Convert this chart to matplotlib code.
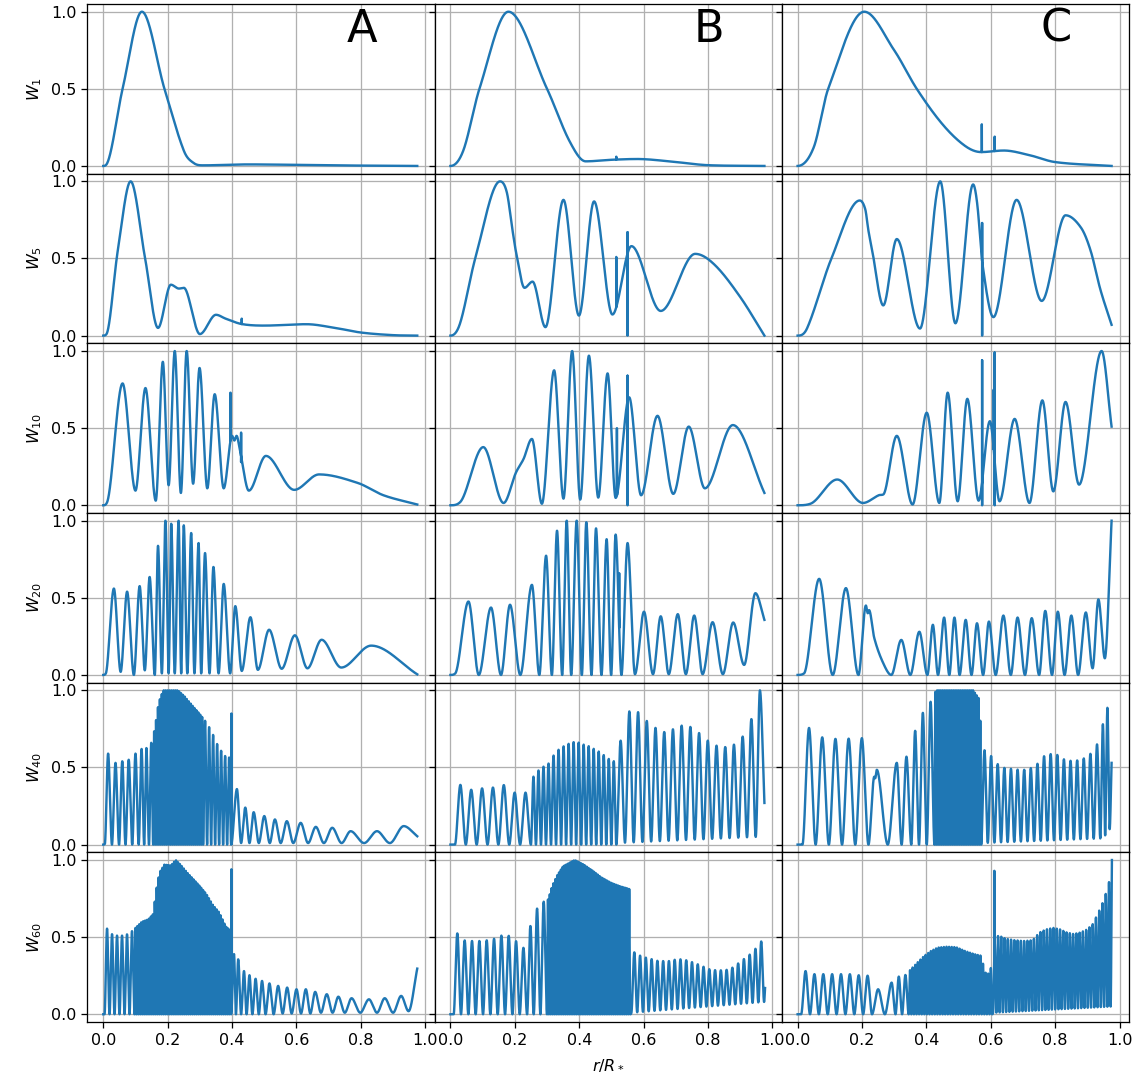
import numpy as np
import matplotlib
matplotlib.use("Agg")
import matplotlib.pyplot as plt

# ---------------- labels / ticks ----------------
ROW_LABELS = ["$W_1$", "$W_5$", "$W_{10}$", "$W_{20}$", "$W_{40}$", "$W_{60}$"]
COL_LETTERS = ["A", "B", "C"]
XTICKS = [0.0, 0.2, 0.4, 0.6, 0.8, 1.0]
YTICKS = [0.0, 0.5, 1.0]
XLABEL = "$r/R_*$"

# ---------------- data ----------------
# keys: (r, W) points on the curve (maxima / minima / shoulders)
# bands: (r_start, r_end, n_lobes, trough_start, trough_end) for dense oscillations,
#        peak heights taken from the *_env_x / *_env_y envelope readings
# spikes: (r, low, high) narrow vertical glitches

# ---- W1 ----
A1_keys = [(0, 0), (0.01, 0.01), (0.06, 0.5), (0.12, 1.0), (0.19, 0.5), (0.25, 0.1),
           (0.28, 0.02), (0.31, 0.004), (0.45, 0.01), (0.7, 0.004), (0.975, 0.0)]
A1_spikes = []
B1_keys = [(0, 0), (0.04, 0.1), (0.09, 0.5), (0.18, 1.0), (0.30, 0.5), (0.37, 0.16),
           (0.42, 0.03), (0.5, 0.04), (0.58, 0.045), (0.68, 0.03), (0.8, 0.005), (0.975, 0.0)]
B1_spikes = [(0.515, None, 0.06)]
C1_keys = [(0, 0), (0.05, 0.12), (0.095, 0.5), (0.207, 1.0), (0.30, 0.75), (0.37, 0.5),
           (0.45, 0.27), (0.52, 0.13), (0.57, 0.09), (0.64, 0.10), (0.72, 0.07), (0.8, 0.025),
           (0.975, 0.0)]
C1_spikes = [(0.572, None, 0.27), (0.612, None, 0.19)]

# ---- W5 ----
A2_keys = [(0, 0), (0.01, 0.01), (0.045, 0.55), (0.085, 1.0), (0.13, 0.5), (0.17, 0.05),
           (0.21, 0.33), (0.235, 0.305), (0.25, 0.31), (0.30, 0.01), (0.35, 0.135), (0.38, 0.11),
           (0.43, 0.075), (0.5, 0.065), (0.63, 0.074), (0.72, 0.05), (0.8, 0.02), (0.9, 0.003),
           (0.975, 0.0)]
A2_spikes = [(0.43, None, 0.11)]
B2_keys = [(0, 0), (0.03, 0.08), (0.077, 0.5), (0.154, 1.0), (0.175, 0.93), (0.193, 0.68),
           (0.203, 0.55), (0.23, 0.31), (0.255, 0.35), (0.295, 0.055), (0.351, 0.88),
           (0.399, 0.13), (0.446, 0.87), (0.503, 0.137), (0.562, 0.58), (0.653, 0.16),
           (0.76, 0.53), (0.82, 0.46), (0.9, 0.25), (0.975, 0.0)]
B2_spikes = [(0.515, None, 0.51), (0.55, 0.0, 0.67)]
C2_keys = [(0, 0), (0.03, 0.05), (0.105, 0.5), (0.193, 0.876), (0.21, 0.82), (0.22, 0.68),
           (0.231, 0.56), (0.266, 0.196), (0.308, 0.626), (0.38, 0.046), (0.443, 1.0),
           (0.49, 0.08), (0.545, 0.98), (0.558, 0.85), (0.575, 0.45), (0.608, 0.12),
           (0.68, 0.88), (0.758, 0.225), (0.832, 0.78), (0.88, 0.70), (0.91, 0.55),
           (0.94, 0.30), (0.975, 0.07)]
C2_spikes = [(0.573, 0.0, 0.73)]

# ---- W10 ----
A3_keys = [(0, 0), (0.012, 0.02), (0.06, 0.79), (0.10, 0.095), (0.131, 0.76), (0.163, 0.03),
           (0.185, 0.93), (0.203, 0.13), (0.222, 1.0), (0.241, 0.08), (0.259, 1.0),
           (0.279, 0.14), (0.299, 0.89), (0.323, 0.11), (0.346, 0.72), (0.374, 0.11),
           (0.40, 0.45), (0.407, 0.42), (0.414, 0.45), (0.425, 0.35), (0.452, 0.095),
           (0.505, 0.32), (0.593, 0.10), (0.67, 0.20), (0.79, 0.145), (0.87, 0.065),
           (0.975, 0.005)]
A3_spikes = [(0.395, None, 0.73), (0.428, 0.28, 0.47)]
B3_keys = [(0, 0), (0.03, 0.02), (0.102, 0.377), (0.165, 0.015), (0.203, 0.21), (0.227, 0.30),
           (0.253, 0.43), (0.284, 0.01), (0.322, 0.875), (0.351, 0.043), (0.378, 1.0),
           (0.403, 0.037), (0.43, 0.97), (0.459, 0.05), (0.488, 0.855), (0.513, 0.048),
           (0.555, 0.70), (0.592, 0.065), (0.643, 0.58), (0.692, 0.074), (0.74, 0.51),
           (0.79, 0.11), (0.877, 0.52), (0.975, 0.08)]
B3_spikes = [(0.517, None, 0.50), (0.55, 0.0, 0.84)]
C3_keys = [(0, 0), (0.04, 0.01), (0.123, 0.167), (0.203, 0.015), (0.252, 0.065), (0.266, 0.07),
           (0.308, 0.45), (0.357, 0.005), (0.401, 0.60), (0.44, 0.015), (0.466, 0.73),
           (0.497, 0.026), (0.527, 0.69), (0.562, 0.03), (0.597, 0.545), (0.627, 0.026),
           (0.674, 0.56), (0.72, 0.015), (0.76, 0.68), (0.794, 0.09), (0.832, 0.67),
           (0.874, 0.134), (0.944, 1.0), (0.975, 0.51)]
C3_spikes = [(0.573, 0.0, 0.94), (0.609, None, 0.75), (0.612, 0.0, 0.99)]

# ---- W20 ----
A4_keys = [(0, 0), (0.008, 0.01), (0.033, 0.56), (0.054, 0.02), (0.074, 0.54), (0.095, 0.0),
           (0.113, 0.576), (0.129, 0.03), (0.144, 0.635), (0.16, 0.0), (0.17, 0.837),
           (0.182, 0.01), (0.193, 1.0), (0.203, 0.01), (0.211, 0.98), (0.222, 0.01),
           (0.234, 1.0), (0.242, 0.01), (0.25, 0.97), (0.261, 0.01), (0.273, 0.92),
           (0.283, 0.01), (0.296, 0.855), (0.304, 0.01), (0.316, 0.79), (0.33, 0.01),
           (0.342, 0.70), (0.358, 0.01), (0.374, 0.59), (0.394, 0.01), (0.41, 0.446),
           (0.43, 0.026), (0.457, 0.374), (0.48, 0.033), (0.515, 0.293), (0.554, 0.04),
           (0.595, 0.257), (0.634, 0.043), (0.678, 0.228), (0.739, 0.048), (0.832, 0.19),
           (0.975, 0.004)]
A4_spikes = []
B4_keys = [(0, 0), (0.015, 0.01), (0.056, 0.476), (0.088, 0.0), (0.126, 0.437), (0.157, 0.0),
           (0.185, 0.455), (0.217, 0.0), (0.253, 0.584), (0.276, 0.0), (0.297, 0.773),
           (0.315, 0.0), (0.331, 0.935), (0.347, 0.0), (0.361, 1.0), (0.375, 0.0),
           (0.392, 1.0), (0.408, 0.0), (0.422, 0.99), (0.438, 0.0), (0.452, 0.95),
           (0.469, 0.0), (0.485, 0.88), (0.499, 0.0), (0.513, 0.91), (0.531, 0.0),
           (0.55, 0.855), (0.573, 0.005), (0.601, 0.41), (0.629, 0.005), (0.653, 0.38),
           (0.678, 0.005), (0.706, 0.394), (0.731, 0.005), (0.757, 0.385), (0.783, 0.005),
           (0.814, 0.342), (0.846, 0.005), (0.878, 0.34), (0.912, 0.065), (0.947, 0.53),
           (0.975, 0.357)]
B4_spikes = [(0.524, None, 0.66)]
C4_keys = [(0, 0), (0.02, 0.01), (0.067, 0.623), (0.109, 0.0), (0.15, 0.563), (0.189, 0.0),
           (0.212, 0.45), (0.218, 0.40), (0.222, 0.42), (0.238, 0.24), (0.266, 0.076),
           (0.291, 0.0), (0.322, 0.227), (0.35, 0.0), (0.378, 0.28), (0.403, 0.0),
           (0.42, 0.325), (0.436, 0.0), (0.455, 0.372), (0.471, 0.0), (0.487, 0.372),
           (0.503, 0.0), (0.522, 0.357), (0.54, 0.0), (0.557, 0.335), (0.576, 0.0),
           (0.594, 0.346), (0.615, 0.0), (0.639, 0.385), (0.662, 0.0), (0.683, 0.372),
           (0.706, 0.0), (0.727, 0.368), (0.75, 0.0), (0.769, 0.415), (0.79, 0.0),
           (0.808, 0.41), (0.829, 0.0), (0.85, 0.385), (0.871, 0.0), (0.895, 0.405),
           (0.916, 0.043), (0.934, 0.49), (0.954, 0.108), (0.975, 1.0)]
C4_spikes = []

# ---- W40 ----
A5_keys = [(0, 0), (0.005, 0.005), (0.015, 0.59), (0.027, 0.0), (0.038, 0.53), (0.049, 0.0),
           (0.059, 0.54), (0.069, 0.0), (0.079, 0.55), (0.09, 0.0), (0.1, 0.59), (0.11, 0.0),
           (0.119, 0.62), (0.127, 0.0), (0.134, 0.626), (0.142, 0.0), (0.149, 0.66),
           (0.415, 0.36), (0.428, 0.01), (0.441, 0.24), (0.454, 0.01), (0.467, 0.21),
           (0.483, 0.01), (0.5, 0.185), (0.517, 0.01), (0.533, 0.163), (0.551, 0.01),
           (0.57, 0.152), (0.59, 0.01), (0.613, 0.141), (0.636, 0.01), (0.66, 0.115),
           (0.685, 0.01), (0.711, 0.109), (0.74, 0.01), (0.768, 0.087), (0.81, 0.01),
           (0.85, 0.087), (0.89, 0.01), (0.933, 0.12), (0.975, 0.054)]
A5_bands = [(0.155, 0.31, 26, 0.0, 0.0), (0.31, 0.397, 7, 0.0, 0.0)]
A5_env_x = [0.155, 0.162, 0.172, 0.186, 0.216, 0.232, 0.253, 0.273, 0.294, 0.314, 0.335,
            0.356, 0.376, 0.397]
A5_env_y = [0.70, 0.78, 0.92, 1.0, 1.0, 1.0, 0.96, 0.91, 0.86, 0.81, 0.74, 0.64, 0.576, 0.56]
A5_spikes = [(0.398, None, 0.85)]

B5_keys = [(0, 0), (0.961, 1.0), (0.975, 0.27)]
B5_bands = [(0.014, 0.25, 7, 0.0, 0.0), (0.25, 0.515, 17, 0.0, 0.0),
            (0.515, 0.948, 16, 0.01, 0.05)]
B5_env_x = [0.0, 0.031, 0.066, 0.1, 0.133, 0.165, 0.197, 0.234, 0.263, 0.285, 0.308, 0.326,
            0.343, 0.36, 0.376, 0.392, 0.407, 0.422, 0.438, 0.453, 0.469, 0.487, 0.505, 0.524,
            0.55, 0.569, 0.592, 0.617, 0.643, 0.671, 0.699, 0.727, 0.752, 0.78, 0.811, 0.843,
            0.874, 0.905, 0.936]
B5_env_y = [0.39, 0.387, 0.354, 0.365, 0.37, 0.387, 0.337, 0.337, 0.463, 0.5, 0.53, 0.60,
            0.626, 0.648, 0.66, 0.67, 0.648, 0.648, 0.626, 0.615, 0.59, 0.565, 0.528, 0.637,
            0.848, 0.90, 0.83, 0.79, 0.746, 0.724, 0.757, 0.778, 0.757, 0.71, 0.652, 0.63,
            0.637, 0.69, 0.82]
B5_spikes = []

C5_keys = [(0, 0), (0.238, 0.44), (0.241, 0.43), (0.246, 0.485), (0.28, 0.0), (0.308, 0.53),
           (0.323, 0.0), (0.338, 0.57), (0.948, 0.78), (0.955, 0.06), (0.962, 0.887),
           (0.969, 0.1), (0.975, 0.53)]
C5_bands = [(0.015, 0.22, 5, 0.0, 0.0), (0.353, 0.425, 3, 0.0, 0.0),
            (0.425, 0.57, 26, 0.0, 0.0), (0.57, 0.94, 18, 0.01, 0.04)]
C5_env_x = [0.0, 0.035, 0.08, 0.122, 0.161, 0.2, 0.353, 0.368, 0.389, 0.413, 0.43, 0.545,
            0.562, 0.573, 0.585, 0.604, 0.627, 0.646, 0.668, 0.688, 0.71, 0.738, 0.762, 0.783,
            0.804, 0.822, 0.842, 0.867, 0.891, 0.912, 0.933, 0.94]
C5_env_y = [0.76, 0.757, 0.69, 0.685, 0.687, 0.69, 0.62, 0.767, 0.854, 0.926, 1.0, 1.0, 0.95,
            0.64, 0.593, 0.57, 0.506, 0.495, 0.49, 0.485, 0.485, 0.506, 0.57, 0.587, 0.585,
            0.556, 0.543, 0.545, 0.56, 0.593, 0.66, 0.68]
C5_spikes = []

# ---- W60 ----
A6_keys = [(0, 0), (0.406, 0.39), (0.412, 0.0), (0.419, 0.356), (0.428, 0.0), (0.437, 0.28),
           (0.445, 0.0), (0.454, 0.253), (0.463, 0.0), (0.473, 0.23), (0.483, 0.0),
           (0.493, 0.216), (0.504, 0.0), (0.516, 0.2), (0.529, 0.0), (0.543, 0.184),
           (0.557, 0.005), (0.571, 0.173), (0.585, 0.005), (0.6, 0.162), (0.614, 0.005),
           (0.629, 0.162), (0.643, 0.005), (0.658, 0.145), (0.676, 0.01), (0.694, 0.13),
           (0.712, 0.01), (0.73, 0.114), (0.75, 0.01), (0.771, 0.104), (0.798, 0.01),
           (0.825, 0.097), (0.85, 0.01), (0.874, 0.104), (0.9, 0.01), (0.925, 0.119),
           (0.948, 0.02), (0.975, 0.296)]
A6_bands = [(0.004, 0.097, 6, 0.0, 0.0), (0.097, 0.397, 50, 0.0, 0.0)]
A6_env_x = [0.0, 0.012, 0.031, 0.046, 0.062, 0.077, 0.09, 0.1, 0.12, 0.14, 0.155, 0.165,
            0.175, 0.19, 0.21, 0.225, 0.24, 0.26, 0.28, 0.30, 0.32, 0.34, 0.36, 0.38, 0.397]
A6_env_y = [0.56, 0.555, 0.51, 0.51, 0.51, 0.52, 0.54, 0.56, 0.60, 0.615, 0.65, 0.81, 0.92,
            0.97, 0.965, 1.0, 0.97, 0.92, 0.875, 0.83, 0.78, 0.71, 0.66, 0.57, 0.54]
A6_spikes = [(0.398, None, 0.94)]

B6_keys = [(0, 0), (0.977, 0.17)]
B6_bands = [(0.01, 0.238, 10, 0.0, 0.0), (0.238, 0.30, 3, 0.0, 0.0),
            (0.30, 0.558, 45, 0.0, 0.0), (0.562, 0.974, 23, 0.01, 0.08)]
B6_env_x = [0.0, 0.021, 0.046, 0.07, 0.094, 0.116, 0.137, 0.158, 0.18, 0.203, 0.227, 0.248,
            0.269, 0.288, 0.304, 0.316, 0.33, 0.35, 0.386, 0.414, 0.442, 0.47, 0.498, 0.526,
            0.543, 0.558, 0.571, 0.589, 0.607, 0.627, 0.645, 0.666, 0.684, 0.701, 0.715,
            0.733, 0.75, 0.768, 0.787, 0.806, 0.826, 0.846, 0.865, 0.885, 0.905, 0.921,
            0.935, 0.95, 0.968]
B6_env_y = [0.525, 0.525, 0.475, 0.475, 0.475, 0.48, 0.49, 0.51, 0.51, 0.475, 0.43, 0.57,
            0.685, 0.728, 0.745, 0.83, 0.896, 0.96, 1.0, 0.97, 0.93, 0.885, 0.853, 0.83, 0.82,
            0.81, 0.40, 0.38, 0.367, 0.356, 0.345, 0.345, 0.345, 0.356, 0.356, 0.35, 0.338,
            0.324, 0.307, 0.29, 0.285, 0.285, 0.29, 0.313, 0.352, 0.367, 0.40, 0.43, 0.48]
B6_spikes = []

C6_keys = [(0, 0), (0.25, 0.162), (0.271, 0.0), (0.292, 0.205), (0.976, 1.0)]
C6_bands = [(0.011, 0.231, 8, 0.0, 0.0), (0.304, 0.345, 2, 0.0, 0.0),
            (0.345, 0.604, 32, 0.0, 0.0), (0.607, 0.972, 36, 0.01, 0.05)]
C6_env_x = [0.0, 0.025, 0.052, 0.079, 0.105, 0.133, 0.161, 0.19, 0.218, 0.316, 0.334, 0.351,
            0.372, 0.393, 0.414, 0.435, 0.463, 0.492, 0.52, 0.548, 0.569, 0.583, 0.597,
            0.615, 0.625, 0.646, 0.674, 0.702, 0.73, 0.751, 0.772, 0.794, 0.815, 0.836,
            0.857, 0.878, 0.899, 0.916, 0.934, 0.952, 0.965, 0.972]
C6_env_y = [0.28, 0.28, 0.26, 0.26, 0.26, 0.26, 0.26, 0.253, 0.25, 0.244, 0.253, 0.29, 0.335,
            0.378, 0.41, 0.432, 0.438, 0.435, 0.41, 0.39, 0.38, 0.27, 0.26, 0.5, 0.51, 0.49,
            0.48, 0.475, 0.48, 0.53, 0.55, 0.56, 0.55, 0.53, 0.52, 0.53, 0.55, 0.583, 0.66,
            0.745, 0.84, 0.9]
C6_spikes = [(0.611, None, 0.93)]

PANELS = [
    [(A1_keys, [], None, None, A1_spikes), (B1_keys, [], None, None, B1_spikes),
     (C1_keys, [], None, None, C1_spikes)],
    [(A2_keys, [], None, None, A2_spikes), (B2_keys, [], None, None, B2_spikes),
     (C2_keys, [], None, None, C2_spikes)],
    [(A3_keys, [], None, None, A3_spikes), (B3_keys, [], None, None, B3_spikes),
     (C3_keys, [], None, None, C3_spikes)],
    [(A4_keys, [], None, None, A4_spikes), (B4_keys, [], None, None, B4_spikes),
     (C4_keys, [], None, None, C4_spikes)],
    [(A5_keys, A5_bands, A5_env_x, A5_env_y, A5_spikes),
     (B5_keys, B5_bands, B5_env_x, B5_env_y, B5_spikes),
     (C5_keys, C5_bands, C5_env_x, C5_env_y, C5_spikes)],
    [(A6_keys, A6_bands, A6_env_x, A6_env_y, A6_spikes),
     (B6_keys, B6_bands, B6_env_x, B6_env_y, B6_spikes),
     (C6_keys, C6_bands, C6_env_x, C6_env_y, C6_spikes)],
]


# ---------------- curve construction (smooth monotone cubic through the read points) -------
def smooth_curve(x, y, xq):
    h = np.diff(x)
    d = np.diff(y) / h
    m = np.zeros_like(y)
    for k in range(1, len(x) - 1):
        if d[k - 1] * d[k] > 0:
            c = (y[k + 1] - y[k - 1]) / (x[k + 1] - x[k - 1])
            lim = 3.0 * min(abs(d[k - 1]), abs(d[k]))
            m[k] = np.sign(c) * min(abs(c), lim)
    m[0] = 0.0
    m[-1] = d[-1]
    i = np.clip(np.searchsorted(x, xq) - 1, 0, len(x) - 2)
    t = (xq - x[i]) / h[i]
    h00 = 2 * t**3 - 3 * t**2 + 1
    h10 = t**3 - 2 * t**2 + t
    h01 = -2 * t**3 + 3 * t**2
    h11 = t**3 - t**2
    return h00 * y[i] + h10 * h[i] * m[i] + h01 * y[i + 1] + h11 * h[i] * m[i + 1]


def build(keys, bands, env_x, env_y, spikes):
    pts = {}
    for (x, y) in keys:
        pts.setdefault(round(x, 6), y)
    for (x0, x1, n, t0, t1) in bands:
        p = (x1 - x0) / n
        for k in range(n):
            xt = x0 + k * p
            pts.setdefault(round(xt, 6), t0 + (t1 - t0) * k / n)
            xp = x0 + (k + 0.5) * p
            pts.setdefault(round(xp, 6), float(np.interp(xp, env_x, env_y)))
        pts.setdefault(round(x1, 6), t1)
    kx = np.array(sorted(pts))
    ky = np.array([pts[k] for k in kx])
    xs = np.union1d(np.linspace(kx[0], kx[-1], 9000), kx)
    ys = smooth_curve(kx, ky, xs)
    for (sx, lo, hi) in spikes:
        base = float(np.interp(sx, xs, ys))
        low = base if lo is None else lo
        j = np.searchsorted(xs, sx)
        xs = np.insert(xs, j, [sx, sx, sx, sx])
        ys = np.insert(ys, j, [base, hi, low, base])
    return xs, ys


# ---------------- figure ----------------
DPI = 115.2
fig, axes = plt.subplots(6, 3, sharex=True, sharey=True,
                         figsize=(1142 / DPI, 1081 / DPI), dpi=DPI)
fig.subplots_adjust(left=0.0766, right=0.9886, top=0.9963, bottom=0.0546,
                    wspace=0, hspace=0)

for r in range(6):
    for c in range(3):
        ax = axes[r, c]
        keys, bands, ex, ey, spikes = PANELS[r][c]
        xs, ys = build(keys, bands, ex, ey, spikes)
        ax.plot(xs, ys, color="#1f77b4", lw=1.5)
        ax.grid(True)
        ax.set_xlim(-0.049, 1.029)
        ax.set_ylim(-0.05, 1.05)
        ax.set_xticks(XTICKS)
        ax.set_yticks(YTICKS)
        if c == 0:
            ax.set_ylabel(ROW_LABELS[r])
        if r == 0:
            ax.text(0.79, 0.852, COL_LETTERS[c], transform=ax.transAxes,
                    fontsize=28, ha="center", va="center")

axes[5, 1].set_xlabel(XLABEL, labelpad=6)

fig.savefig("out.png", dpi=DPI)
